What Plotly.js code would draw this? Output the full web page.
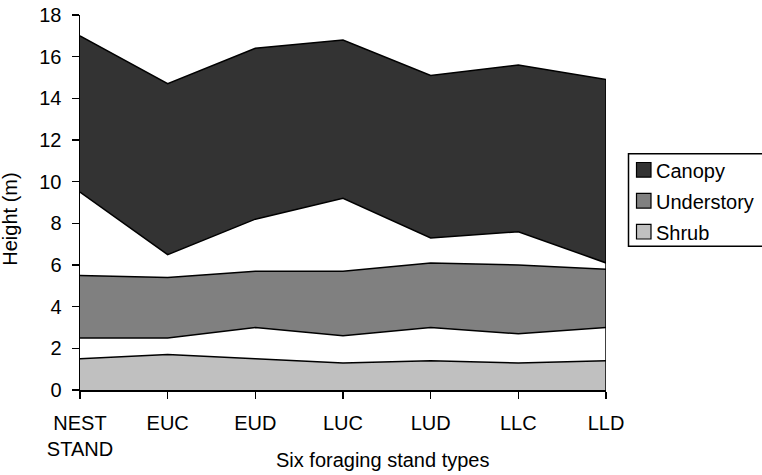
<!DOCTYPE html>
<html>
<head>
<meta charset="utf-8">
<script src="https://cdn.plot.ly/plotly-3.0.1.min.js"></script>
<style>html,body{margin:0;padding:0;background:#fff;}#chart{width:762px;height:475px;}</style>
</head>
<body>
<div id="chart"></div>
<script>
var categories = ["NEST<br>STAND", "EUC", "EUD", "LUC", "LUD", "LLC", "LLD"];
var shrubTop = [1.5, 1.7, 1.5, 1.3, 1.4, 1.3, 1.4];
var understoryBottom = [2.5, 2.5, 3.0, 2.6, 3.0, 2.7, 3.0];
var understoryTop = [5.5, 5.4, 5.7, 5.7, 6.1, 6.0, 5.8];
var canopyBottom = [9.5, 6.5, 8.2, 9.2, 7.3, 7.6, 6.1];
var canopyTop = [17.0, 14.7, 16.4, 16.8, 15.1, 15.6, 14.9];
var yTicks = [0, 2, 4, 6, 8, 10, 12, 14, 16, 18];
var legendNames = ["Canopy", "Understory", "Shrub"];

var colCanopy = "#333333", colUnder = "#808080", colShrub = "#c0c0c0";
var legendColors = [colCanopy, colUnder, colShrub];
var edge = {color: "#000", width: 1.5};
var font = "Arial, 'Liberation Sans', sans-serif";

var traces = [
  {x: categories, y: shrubTop, type: "scatter", mode: "lines", fill: "tozeroy", fillcolor: colShrub, line: edge, showlegend: false, hoverinfo: "skip"},
  {x: categories, y: understoryBottom, type: "scatter", mode: "lines", line: edge, showlegend: false, hoverinfo: "skip"},
  {x: categories, y: understoryTop, type: "scatter", mode: "lines", fill: "tonexty", fillcolor: colUnder, line: edge, showlegend: false, hoverinfo: "skip"},
  {x: categories, y: canopyBottom, type: "scatter", mode: "lines", line: edge, showlegend: false, hoverinfo: "skip"},
  {x: categories, y: canopyTop, type: "scatter", mode: "lines", fill: "tonexty", fillcolor: colCanopy, line: edge, showlegend: false, hoverinfo: "skip"},
  {x: [categories[6], categories[6]], y: [0, canopyTop[6]], type: "scatter", mode: "lines", line: edge, showlegend: false, hoverinfo: "skip"}
];

// plot area in pixels
var L = 80, R = 606, T = 15, B = 390.5;
function px(x) { return (x - L) / (R - L); }
function py(y) { return (B - y) / (B - T); }

var shapes = [
  {type: "rect", xref: "paper", yref: "paper", x0: px(628.5), x1: px(764), y0: py(154), y1: py(246.5),
   line: {color: "#000", width: 1.5}, fillcolor: "rgba(0,0,0,0)"}
];
var annotations = [
  {text: "Six foraging stand types", xref: "paper", yref: "paper", x: px(382), y: py(461), showarrow: false, xanchor: "center", yanchor: "middle", font: {family: font, size: 20, color: "#000"}},
  {text: "Height (m)", xref: "paper", yref: "paper", x: px(10), y: py(220), showarrow: false, textangle: -90, xanchor: "center", yanchor: "middle", font: {family: font, size: 20, color: "#000"}}
];
var itemCenters = [170, 201, 232];
legendNames.forEach(function (name, i) {
  var c = itemCenters[i];
  shapes.push({type: "rect", xref: "paper", yref: "paper", x0: px(636.5), x1: px(651), y0: py(c - 7.3), y1: py(c + 7.3),
    line: {color: "#000", width: 1.2}, fillcolor: legendColors[i]});
  annotations.push({text: name, xref: "paper", yref: "paper", x: px(654), y: py(c + 1), showarrow: false,
    xanchor: "left", yanchor: "middle", font: {family: font, size: 20, color: "#000"}});
});

var layout = {
  width: 762, height: 475,
  margin: {l: L, r: 762 - R, t: T, b: 475 - B, pad: 0},
  paper_bgcolor: "#fff", plot_bgcolor: "#fff",
  font: {family: font, size: 20, color: "#000"},
  showlegend: false,
  xaxis: {
    type: "category",
    range: [0, 6],
    showgrid: false, zeroline: false,
    showline: true, linecolor: "#000", linewidth: 1.5,
    ticks: "outside", ticklen: 7, tickwidth: 1.5, tickcolor: "#000",
    ticklabelstandoff: 7,
    tickfont: {family: font, size: 20, color: "#000"},
    automargin: false,
    fixedrange: true
  },
  yaxis: {
    range: [0, 18],
    tickvals: yTicks,
    ticktext: yTicks.map(String),
    showgrid: false, zeroline: false,
    showline: true, linecolor: "#000", linewidth: 1.5,
    ticks: "outside", ticklen: 7, tickwidth: 1.5, tickcolor: "#000",
    ticklabelstandoff: 6,
    tickfont: {family: font, size: 20, color: "#000"},
    automargin: false,
    fixedrange: true
  },
  shapes: shapes,
  annotations: annotations
};

Plotly.newPlot("chart", traces, layout, {displayModeBar: false, staticPlot: true});
</script>
</body>
</html>
